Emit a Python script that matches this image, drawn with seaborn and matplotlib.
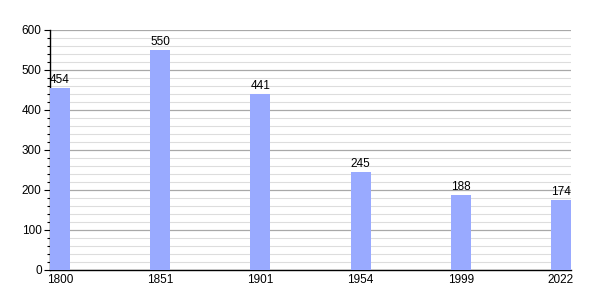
import matplotlib
matplotlib.use("Agg")
import matplotlib.pyplot as plt
import seaborn as sns
import pandas as pd
from matplotlib.ticker import MultipleLocator

years = ["1800", "1851", "1901", "1954", "1999", "2022"]
population = [454, 550, 441, 245, 188, 174]

sns.set_theme(style="white")
plt.rcParams['font.family'] = ['Liberation Sans', 'DejaVu Sans']

df = pd.DataFrame({"year": years, "pop": population})

fig = plt.figure(figsize=(6, 3), dpi=100)
ax = fig.add_axes([50/600, 30/300, 521/600, 240/300])

sns.barplot(data=df, x="year", y="pop", color="#99aaff", width=0.2,
            saturation=1, ax=ax, zorder=3, linewidth=0, edgecolor="none")

ax.set_ylim(0, 600)
ax.set_xlim(-0.1, 5.1)
ax.yaxis.set_major_locator(MultipleLocator(100))
ax.yaxis.set_minor_locator(MultipleLocator(20))
ax.grid(which="major", axis="y", color="#a8a8a8", linewidth=0.9, zorder=0)
ax.grid(which="minor", axis="y", color="#dddddd", linewidth=0.8, zorder=0)
ax.grid(False, axis="x")
ax.set_axisbelow(True)

for s in ["top", "right"]:
    ax.spines[s].set_visible(False)
for s in ["left", "bottom"]:
    ax.spines[s].set_color("black")
    ax.spines[s].set_linewidth(1.0)

ax.tick_params(axis="y", which="major", length=4, width=0.8, color="black",
               labelsize=8.5, pad=2, left=True, labelcolor="black")
ax.tick_params(axis="y", which="minor", length=2, width=0.8, color="black", left=True)
ax.tick_params(axis="x", length=0, labelsize=8.5, pad=3, labelcolor="black")
ax.set_xlabel("")
ax.set_ylabel("")

for i, v in enumerate(population):
    ax.text(i, v + 5, str(v), ha="center", va="bottom", fontsize=8.5, color="black")

fig.savefig("out.png", dpi=100)
